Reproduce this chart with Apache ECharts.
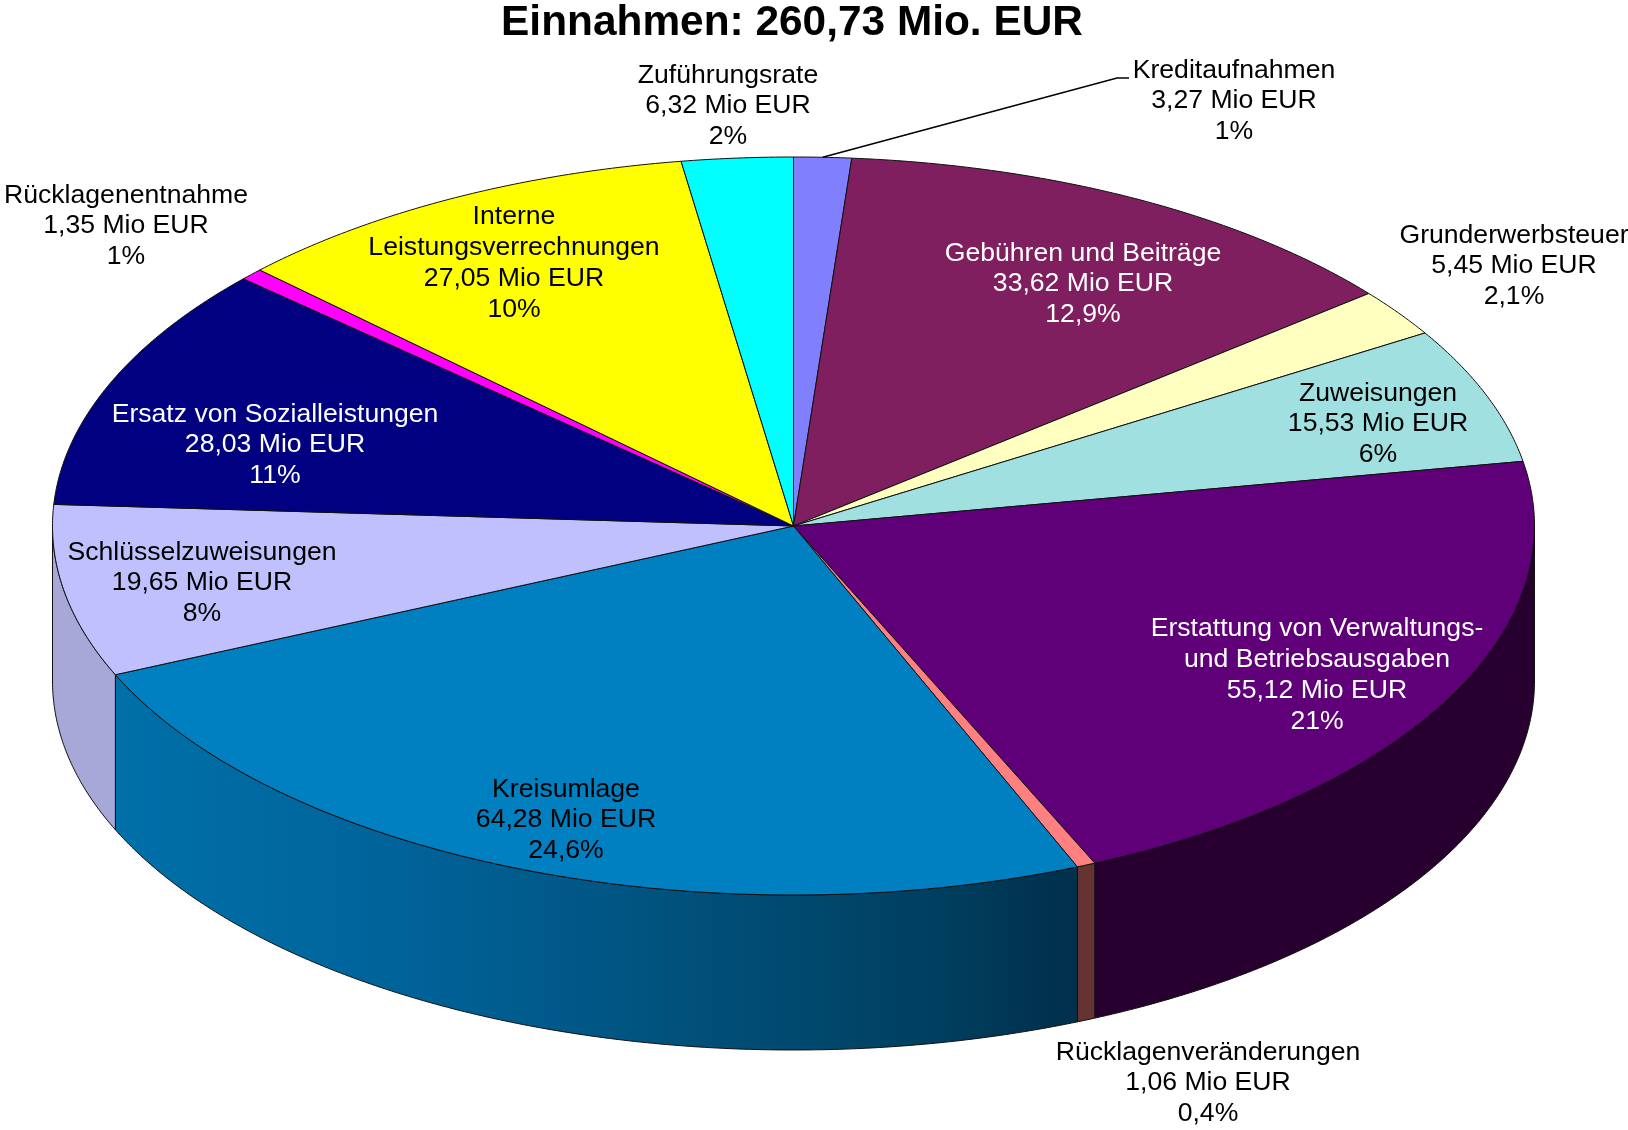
<!DOCTYPE html>
<html>
<head>
<meta charset="utf-8">
<title>Einnahmen</title>
<script src="https://cdn.jsdelivr.net/npm/echarts@6/dist/echarts.min.js"></script>
<style>
  html, body { margin: 0; padding: 0; background: #fff; }
  #main { width: 1628px; height: 1130px; }
</style>
</head>
<body>
<div id="main"></div>
<script>
// slices clockwise, starting at 12 o'clock
const names = [
  'Kreditaufnahmen', 'Gebühren und Beiträge', 'Grunderwerbsteuer', 'Zuweisungen',
  'Erstattung von Verwaltungs-\nund Betriebsausgaben', 'Rücklagenveränderungen', 'Kreisumlage',
  'Schlüsselzuweisungen', 'Ersatz von Sozialleistungen', 'Rücklagenentnahme',
  'Interne\nLeistungsverrechnungen', 'Zuführungsrate'
];
const values = [3.27, 33.62, 5.45, 15.53, 55.12, 1.06, 64.28, 19.65, 28.03, 1.35, 27.05, 6.32];
const percents = ['1%', '12,9%', '2,1%', '6%', '21%', '0,4%', '24,6%', '8%', '11%', '1%', '10%', '2%'];

const topColors = ['#8080ff', '#7f1f5f', '#ffffc0', '#a0e0e0', '#5f0078', '#ff8080', '#0080c0', '#c0c0ff', '#000080', '#ff00ff', '#ffff00', '#00ffff'];
const wallColors = ['#6060c0', '#5f1747', '#c0c090', '#78a8a8', '#280030', '#663333', '#00507a', '#a8a8d8', '#000060', '#c000c0', '#c0c000', '#00c0c0'];
const labelColors = ['#000', '#fff', '#000', '#000', '#fff', '#000', '#000', '#000', '#fff', '#000', '#000', '#000'];

// label block centres, px
const labelX = [1234, 1083, 1514, 1378, 1317, 1208, 566, 202, 275, 126, 514, 728];
const labelY = [101, 284, 266, 424, 675, 1083, 820, 583, 445, 226, 263, 106];

// pie geometry, px
const CX = 793.5, CY = 526, RX = 741, RY = 369, DEPTH = 155;

// banded shading of the big front wall
const shadeX = [116, 400, 700, 950, 1040, 1080];
const shadeColors = ['#0070a8', '#00639a', '#00507a', '#003e5e', '#003350', '#00304c'];

const total = values.reduce((a, b) => a + b, 0);
const starts = [];
values.reduce((sum, v, i) => { starts[i] = sum; return sum + v; }, 0);

const toDeg = v => v / total * 360;
const onEllipse = (deg, dy) => {
  const r = deg * Math.PI / 180;
  return [CX + RX * Math.sin(r), CY - RY * Math.cos(r) + (dy || 0)];
};
const arc = (a, b, dy) => {
  const pts = [];
  const n = Math.max(2, Math.ceil(Math.abs(b - a) * 2));
  for (let i = 0; i <= n; i++) pts.push(onEllipse(a + (b - a) * i / n, dy));
  return pts;
};

const lineStyleOf = fill => ({ fill: fill, stroke: '#111', lineWidth: 1, lineJoin: 'round' });

function renderSlice(params, api) {
  const i = params.dataIndex;
  const a = toDeg(starts[i]);
  const b = a + toDeg(api.value(0));
  const children = [];

  // side wall: only the front half of the rim shows
  const wa = Math.max(a, 90), wb = Math.min(b, 270);
  if (wb > wa) {
    let fill = wallColors[i];
    if (i === 6) {
      const x0 = shadeX[0], x1 = shadeX[shadeX.length - 1];
      fill = new echarts.graphic.LinearGradient(x0, 0, x1, 0, shadeX.map((x, k) => ({
        offset: (x - x0) / (x1 - x0), color: shadeColors[k]
      })), true);
    }
    children.push({
      type: 'polygon', z2: 1,
      shape: { points: arc(wa, wb, 0).concat(arc(wb, wa, DEPTH)) },
      style: lineStyleOf(fill)
    });
  }

  // top face
  children.push({
    type: 'polygon', z2: 2,
    shape: { points: [[CX, CY]].concat(arc(a, b, 0)) },
    style: lineStyleOf(topColors[i])
  });

  // label
  children.push({
    type: 'text', z2: 5,
    style: {
      x: labelX[i], y: labelY[i],
      text: names[i] + '\n' + api.value(0).toFixed(2).replace('.', ',') + ' Mio EUR\n' + percents[i],
      fill: labelColors[i],
      font: '26.6px "Liberation Sans", Arial, sans-serif',
      lineHeight: 30.8,
      align: 'center', verticalAlign: 'middle'
    }
  });

  // leader line of the first slice
  if (i === 0) {
    children.push({
      type: 'polyline', z2: 4,
      shape: { points: [onEllipse((a + b) / 2, 0), [1117, 78], [1129, 78]] },
      style: { stroke: '#000', lineWidth: 1.6, fill: null }
    });
  }
  return { type: 'group', children: children };
}

const myChart = echarts.init(document.getElementById('main'));
myChart.setOption({
  animation: false,
  backgroundColor: '#fff',
  title: {
    text: 'Einnahmen: 260,73 Mio. EUR',
    left: 792,
    textAlign: 'center',
    top: 2,
    padding: 0,
    textStyle: { fontFamily: '"Liberation Sans", Arial, sans-serif', fontSize: 42.4, fontWeight: 'bold', color: '#000' }
  },
  series: [{
    type: 'custom',
    coordinateSystem: 'none',
    silent: true,
    data: values,
    renderItem: renderSlice
  }]
});
</script>
</body>
</html>
